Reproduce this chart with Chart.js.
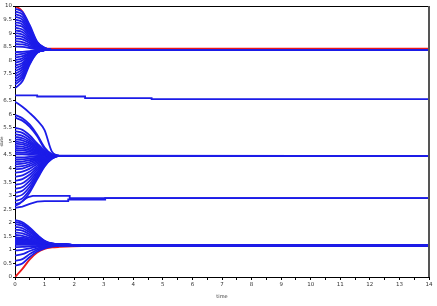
<!DOCTYPE html>
<html>
<head>
<meta charset="utf-8">
<script src="https://cdn.jsdelivr.net/npm/chart.js@4"></script>
<style>
  body { margin: 0; background: #fff; }
</style>
</head>
<body>
<canvas id="grafico" width="437" height="306"></canvas>
<script>
// sample times for each family of trajectories
const tempoA = [0, 0.25, 0.5, 0.75, 1, 1.25, 14];
const tempoC = [0, 0.25, 0.5, 0.75, 1, 1.25, 1.5, 14];
const tempoE = [0, 0.25, 0.5, 0.75, 1, 1.25, 1.5, 2.25, 14];

// top cluster (settles near 8.4)
const grupoA = [
    [9.9, 9.78, 9.29, 8.68, 8.46, 8.38, 8.38],
    [9.8, 9.69, 9.23, 8.66, 8.45, 8.38, 8.38],
    [9.7, 9.59, 9.17, 8.64, 8.45, 8.38, 8.38],
    [9.6, 9.5, 9.11, 8.62, 8.44, 8.38, 8.38],
    [9.5, 9.41, 9.05, 8.6, 8.44, 8.38, 8.38],
    [9.4, 9.32, 8.99, 8.58, 8.43, 8.38, 8.38],
    [9.3, 9.23, 8.93, 8.56, 8.43, 8.38, 8.38],
    [9.2, 9.13, 8.87, 8.54, 8.42, 8.38, 8.38],
    [9.1, 9.04, 8.81, 8.52, 8.42, 8.38, 8.38],
    [9.0, 8.95, 8.75, 8.5, 8.41, 8.38, 8.38],
    [8.9, 8.86, 8.69, 8.48, 8.41, 8.38, 8.38],
    [8.8, 8.77, 8.63, 8.46, 8.4, 8.38, 8.38],
    [8.7, 8.67, 8.57, 8.44, 8.4, 8.38, 8.38],
    [8.6, 8.58, 8.51, 8.42, 8.39, 8.38, 8.38],
    [8.5, 8.49, 8.45, 8.4, 8.39, 8.38, 8.38],
    [8.3, 8.31, 8.33, 8.37, 8.38, 8.38, 8.38],
    [8.2, 8.23, 8.31, 8.37, 8.38, 8.38, 8.38],
    [8.1, 8.15, 8.27, 8.36, 8.38, 8.38, 8.38],
    [8.0, 8.07, 8.24, 8.35, 8.38, 8.38, 8.38],
    [7.9, 7.99, 8.2, 8.34, 8.38, 8.38, 8.38],
    [7.8, 7.9, 8.16, 8.33, 8.37, 8.38, 8.38],
    [7.7, 7.82, 8.12, 8.33, 8.37, 8.38, 8.38],
    [7.6, 7.74, 8.08, 8.32, 8.37, 8.38, 8.38],
    [7.5, 7.66, 8.05, 8.31, 8.37, 8.38, 8.38],
    [7.4, 7.58, 8.01, 8.3, 8.37, 8.38, 8.38],
    [7.3, 7.49, 7.97, 8.29, 8.37, 8.38, 8.38],
    [7.2, 7.41, 7.93, 8.29, 8.37, 8.38, 8.38],
    [7.1, 7.33, 7.89, 8.28, 8.37, 8.38, 8.38],
    [6.97, 7.22, 7.85, 8.27, 8.37, 8.38, 8.38]
];
const vermelhoA = [10, 9.8, 9.2, 8.64, 8.45, 8.43, 8.43];

// lone trajectory near 6.7, drifting down in steps
const degrauX = [0, 0.75, 2.37, 4.62, 11.05, 14];
const degrauY = [6.73, 6.7, 6.66, 6.6, 6.56, 6.56];

// middle cluster (settles near 4.47)
const grupoC = [
    [6.47, 6.28, 6.05, 5.78, 5.42, 4.62, 4.48, 4.47],
    [5.98, 5.86, 5.62, 5.25, 4.78, 4.53, 4.47, 4.47],
    [5.88, 5.77, 5.54, 5.19, 4.74, 4.52, 4.47, 4.47],
    [5.5, 5.43, 5.22, 4.93, 4.67, 4.52, 4.47, 4.47],
    [5.38, 5.32, 5.13, 4.88, 4.65, 4.52, 4.47, 4.47],
    [5.27, 5.21, 5.05, 4.83, 4.63, 4.51, 4.47, 4.47],
    [5.17, 5.12, 4.98, 4.79, 4.61, 4.51, 4.47, 4.47],
    [5.08, 5.04, 4.92, 4.75, 4.59, 4.5, 4.47, 4.47],
    [5.0, 4.96, 4.86, 4.71, 4.58, 4.5, 4.47, 4.47],
    [4.92, 4.89, 4.8, 4.67, 4.56, 4.49, 4.47, 4.47],
    [4.84, 4.81, 4.74, 4.64, 4.54, 4.49, 4.47, 4.47],
    [4.76, 4.74, 4.68, 4.6, 4.53, 4.48, 4.47, 4.47],
    [4.68, 4.67, 4.63, 4.57, 4.51, 4.48, 4.47, 4.47],
    [4.6, 4.59, 4.57, 4.54, 4.5, 4.48, 4.47, 4.47],
    [4.53, 4.53, 4.51, 4.5, 4.48, 4.47, 4.47, 4.47],
    [4.41, 4.41, 4.43, 4.44, 4.46, 4.47, 4.47, 4.47],
    [4.33, 4.34, 4.37, 4.4, 4.44, 4.46, 4.47, 4.47],
    [4.25, 4.26, 4.31, 4.36, 4.42, 4.46, 4.47, 4.47],
    [4.16, 4.18, 4.24, 4.32, 4.4, 4.45, 4.47, 4.47],
    [4.07, 4.09, 4.17, 4.28, 4.38, 4.45, 4.47, 4.47],
    [3.97, 4.0, 4.1, 4.23, 4.36, 4.44, 4.47, 4.47],
    [3.85, 3.89, 4.0, 4.17, 4.33, 4.43, 4.47, 4.47],
    [3.7, 3.75, 3.89, 4.1, 4.3, 4.42, 4.47, 4.47],
    [3.55, 3.61, 3.78, 4.03, 4.27, 4.42, 4.47, 4.47],
    [3.4, 3.46, 3.67, 3.96, 4.24, 4.41, 4.47, 4.47],
    [3.25, 3.32, 3.56, 3.88, 4.2, 4.4, 4.47, 4.47],
    [3.1, 3.18, 3.44, 3.81, 4.17, 4.39, 4.47, 4.47],
    [2.95, 3.04, 3.33, 3.74, 4.14, 4.38, 4.47, 4.47],
    [2.8, 2.9, 3.22, 3.67, 4.1, 4.37, 4.47, 4.47],
    [2.68, 2.79, 3.13, 3.61, 4.08, 4.36, 4.47, 4.47]
];

// cluster near 2.9
const grupoD1X = [0, 0.15, 0.3, 0.45, 0.6, 1.85, 1.85, 14];
const grupoD1Y = [2.62, 2.7, 2.85, 2.95, 2.99, 2.99, 2.91, 2.91];
const grupoD2X = [0, 0.25, 0.5, 0.75, 1.0, 1.8, 1.8, 3.05, 3.05, 14];
const grupoD2Y = [2.55, 2.6, 2.7, 2.78, 2.8, 2.8, 2.86, 2.86, 2.91, 2.91];

// bottom cluster (settles near 1.17)
const grupoE = [
    [2.1, 2.02, 1.82, 1.56, 1.34, 1.24, 1.21, 1.17, 1.17],
    [2.03, 1.96, 1.77, 1.53, 1.33, 1.23, 1.21, 1.17, 1.17],
    [1.95, 1.89, 1.71, 1.49, 1.32, 1.23, 1.21, 1.17, 1.17],
    [1.85, 1.8, 1.64, 1.45, 1.3, 1.22, 1.2, 1.17, 1.17],
    [1.75, 1.71, 1.57, 1.41, 1.29, 1.22, 1.2, 1.17, 1.17],
    [1.65, 1.61, 1.51, 1.38, 1.28, 1.22, 1.2, 1.17, 1.17],
    [1.55, 1.52, 1.44, 1.34, 1.26, 1.22, 1.2, 1.17, 1.17],
    [1.47, 1.45, 1.39, 1.31, 1.25, 1.22, 1.21, 1.17, 1.17],
    [1.43, 1.41, 1.36, 1.3, 1.25, 1.23, 1.22, 1.17, 1.17],
    [1.39, 1.38, 1.34, 1.29, 1.25, 1.23, 1.22, 1.17, 1.17],
    [1.35, 1.34, 1.31, 1.27, 1.24, 1.22, 1.21, 1.17, 1.17],
    [1.31, 1.3, 1.28, 1.26, 1.24, 1.22, 1.21, 1.17, 1.17],
    [1.27, 1.27, 1.26, 1.25, 1.23, 1.22, 1.21, 1.17, 1.17],
    [1.23, 1.23, 1.23, 1.22, 1.22, 1.21, 1.2, 1.17, 1.17],
    [1.19, 1.19, 1.19, 1.19, 1.19, 1.19, 1.18, 1.17, 1.17],
    [1.1, 1.11, 1.13, 1.15, 1.16, 1.17, 1.17, 1.17, 1.17],
    [0.98, 1.0, 1.06, 1.11, 1.14, 1.16, 1.17, 1.17, 1.17],
    [0.8, 0.84, 0.96, 1.06, 1.12, 1.15, 1.16, 1.17, 1.17],
    [0.6, 0.66, 0.85, 1.0, 1.09, 1.14, 1.16, 1.17, 1.17],
    [0.42, 0.5, 0.74, 0.94, 1.06, 1.12, 1.15, 1.17, 1.17]
];
const vermelhoE = [0, 0.3, 0.65, 0.9, 1.04, 1.09, 1.11, 1.14, 1.14];

const AZUL = 'rgb(28,28,232)';
const VERMELHO = 'rgb(235,25,25)';
const ESPESSURA = 1.8;

function pontos(xs, ys) {
    return xs.map((x, i) => ({x: x, y: ys[i]}));
}

function curvas(tempos, linhas, cor) {
    return linhas.map(function (ys) {
        return {
            data: pontos(tempos, ys),
            borderColor: cor,
            borderWidth: ESPESSURA,
            pointRadius: 0,
            cubicInterpolationMode: 'monotone',
            fill: false
        };
    });
}

function reta(xs, ys, cor, extra) {
    return Object.assign({
        data: pontos(xs, ys),
        borderColor: cor,
        borderWidth: ESPESSURA,
        pointRadius: 0,
        tension: 0,
        fill: false
    }, extra || {});
}

let datasets = [];
datasets = datasets.concat(curvas(tempoA, grupoA, AZUL));
datasets.push(reta(degrauX, degrauY, AZUL, {stepped: 'after'}));
datasets = datasets.concat(curvas(tempoC, grupoC, AZUL));
datasets.push(reta(grupoD1X, grupoD1Y, AZUL));
datasets.push(reta(grupoD2X, grupoD2Y, AZUL));
datasets = datasets.concat(curvas(tempoE, grupoE, AZUL));
datasets = datasets.concat(curvas(tempoA, [vermelhoA], VERMELHO));
datasets = datasets.concat(curvas(tempoE, [vermelhoE], VERMELHO));

// top and right edges of the plot box
const moldura = {
    id: 'moldura',
    afterDraw: function (chart) {
        let a = chart.chartArea;
        let ctx = chart.ctx;
        ctx.save();
        ctx.strokeStyle = '#000';
        ctx.lineWidth = 1;
        ctx.beginPath();
        ctx.moveTo(a.left, a.top + 0.5);
        ctx.lineTo(a.right, a.top + 0.5);
        ctx.stroke();
        ctx.strokeStyle = '#555';
        ctx.lineWidth = 2;
        ctx.beginPath();
        ctx.moveTo(a.right, a.top);
        ctx.lineTo(a.right, a.bottom);
        ctx.stroke();
        ctx.restore();
    }
};

const fonteTick = {family: 'DejaVu Sans', size: 5.5};

new Chart(document.getElementById('grafico').getContext('2d'), {
    type: 'line',
    data: {datasets: datasets},
    plugins: [moldura],
    options: {
        responsive: false,
        animation: false,
        events: [],
        layout: {padding: {top: 6, right: 8, left: 0, bottom: 5}},
        plugins: {legend: {display: false}, tooltip: {enabled: false}},
        scales: {
            x: {
                type: 'linear',
                min: 0,
                max: 14,
                border: {color: '#000', width: 1},
                grid: {drawOnChartArea: false, tickLength: 3, color: '#000'},
                ticks: {
                    stepSize: 0.5,
                    autoSkip: false,
                    maxRotation: 0,
                    padding: 1,
                    color: '#333',
                    font: fonteTick,
                    callback: v => Number.isInteger(v) ? String(v) : ''
                },
                title: {display: true, text: 'time', color: '#333', font: {family: 'DejaVu Sans', size: 5}, padding: 1},
                afterFit: s => { s.height = 24; }
            },
            y: {
                type: 'linear',
                min: 0,
                max: 10,
                border: {color: '#000', width: 1},
                grid: {drawOnChartArea: false, tickLength: 2, color: '#000'},
                ticks: {
                    stepSize: 0.5,
                    autoSkip: false,
                    padding: 1,
                    color: '#333',
                    font: fonteTick,
                    callback: v => String(v)
                },
                title: {display: true, text: 'state', color: '#333', font: {family: 'DejaVu Sans', size: 4}, padding: 0},
                afterFit: s => { s.width = 15; }
            }
        }
    }
});
</script>
</body>
</html>
